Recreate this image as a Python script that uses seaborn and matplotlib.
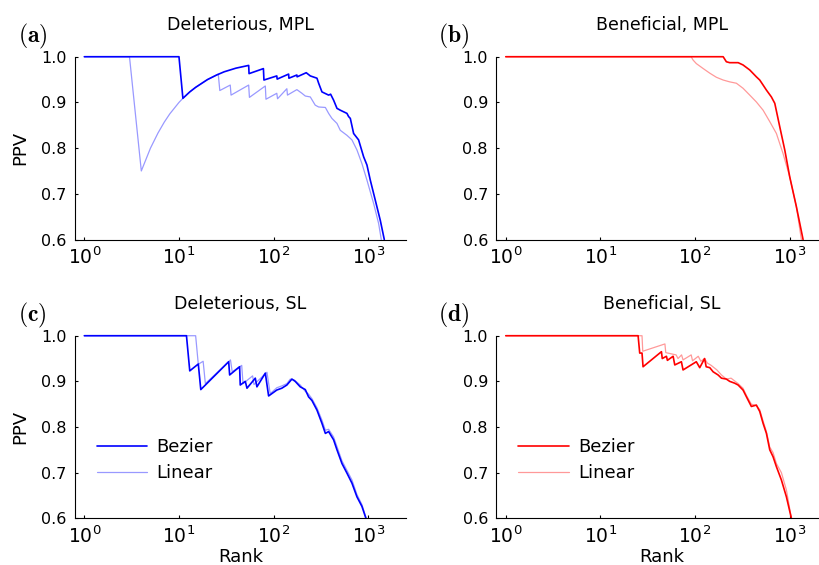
import matplotlib
matplotlib.use("Agg")
import matplotlib.pyplot as plt
import seaborn as sns
from matplotlib.ticker import FixedLocator, NullLocator

sns.set_theme(style="ticks")
plt.rcParams["font.family"] = ["DejaVu Sans"]
plt.rcParams["mathtext.fontset"] = "dejavusans"
plt.rcParams["text.color"] = "black"
plt.rcParams["axes.labelcolor"] = "black"
plt.rcParams["xtick.color"] = "black"
plt.rcParams["ytick.color"] = "black"

# ---- data (rank, PPV) ----
# (a) Deleterious, MPL
del_mpl_bez_rank = [1, 10, 11, 13, 15, 20, 25, 30, 40, 54.5, 55, 78, 79, 108, 109, 144, 145,
                    176, 177, 221, 244, 287, 299, 324, 381, 400, 430, 467, 506, 595, 620, 646,
                    700, 790, 893, 968, 1050, 1186, 1339, 1476]
del_mpl_bez_ppv = [1.0, 1.0, 0.909, 0.923, 0.933, 0.95, 0.96, 0.967, 0.975, 0.981, 0.963, 0.974,
                   0.949, 0.958, 0.951, 0.962, 0.953, 0.960, 0.956, 0.965, 0.958, 0.953, 0.942,
                   0.923, 0.916, 0.918, 0.905, 0.887, 0.883, 0.876, 0.869, 0.865, 0.832, 0.818,
                   0.781, 0.763, 0.730, 0.686, 0.642, 0.6]
del_mpl_lin_rank = [1, 3, 4, 5, 6, 7, 8, 10, 11, 13, 15, 20, 26, 27, 34.8, 35.5, 54.5, 55.5,
                    81.7, 83, 108, 110, 138, 140, 176, 199, 216, 244, 275, 299, 352, 381, 413,
                    467, 506, 595, 672, 759, 857, 968, 1138, 1286, 1372]
del_mpl_lin_ppv = [1.0, 1.0, 0.75, 0.8, 0.833, 0.857, 0.875, 0.9, 0.909, 0.923, 0.933, 0.95,
                   0.962, 0.926, 0.938, 0.916, 0.938, 0.911, 0.936, 0.907, 0.92, 0.908, 0.93,
                   0.916, 0.928, 0.92, 0.914, 0.912, 0.894, 0.89, 0.889, 0.876, 0.865, 0.854,
                   0.839, 0.828, 0.818, 0.796, 0.766, 0.73, 0.679, 0.635, 0.6]

# (b) Beneficial, MPL
ben_mpl_bez_rank = [1, 198, 214, 232, 285, 321, 378, 444, 482, 523, 567, 640, 695, 784, 886,
                    1000, 1175, 1383]
ben_mpl_bez_ppv = [1.0, 1.0, 0.989, 0.987, 0.987, 0.982, 0.971, 0.956, 0.949, 0.938, 0.927,
                   0.912, 0.898, 0.847, 0.796, 0.737, 0.672, 0.6]
ben_mpl_lin_rank = [1, 91, 95, 103, 122, 143, 168, 198, 232, 273, 321, 378, 444, 523, 615, 723,
                    850, 1000, 1175, 1327]
ben_mpl_lin_ppv = [1.0, 1.0, 0.993, 0.985, 0.974, 0.964, 0.955, 0.949, 0.945, 0.942, 0.931,
                   0.916, 0.901, 0.883, 0.858, 0.832, 0.788, 0.737, 0.672, 0.6]

# (c) Deleterious, SL
del_sl_bez_rank = [1, 12, 13, 16, 17, 33.5, 34.3, 43.7, 44.4, 50.2, 52.3, 64, 66.6, 81.7, 88.5,
                   108, 122, 138, 156, 169, 191, 216, 234, 254, 287, 324, 352, 381, 430, 467,
                   527, 595, 672, 759, 857, 944]
del_sl_bez_ppv = [1.0, 1.0, 0.923, 0.938, 0.882, 0.943, 0.914, 0.932, 0.892, 0.9, 0.885, 0.907,
                  0.888, 0.918, 0.868, 0.881, 0.885, 0.892, 0.905, 0.9, 0.888, 0.882, 0.866,
                  0.858, 0.837, 0.808, 0.786, 0.79, 0.772, 0.75, 0.72, 0.699, 0.677, 0.647,
                  0.626, 0.6]
del_sl_lin_rank = [1, 15, 16, 18, 19, 35, 36.5, 46, 47.5, 60, 62, 85, 92, 108, 122, 138, 150,
                   165, 191, 216, 234, 254, 287, 324, 352, 381, 430, 467, 527, 595, 672, 759,
                   857, 950]
del_sl_lin_ppv = [1.0, 1.0, 0.9375, 0.944, 0.895, 0.947, 0.921, 0.935, 0.895, 0.912, 0.893,
                  0.92, 0.873, 0.886, 0.89, 0.895, 0.905, 0.903, 0.892, 0.878, 0.872, 0.862,
                  0.842, 0.815, 0.793, 0.795, 0.778, 0.757, 0.726, 0.705, 0.684, 0.652, 0.63,
                  0.6]

# (d) Beneficial, SL
ben_sl_bez_rank = [1, 25, 26, 27.5, 28.2, 44.1, 45, 49.8, 51, 58.6, 61, 71.7, 74.6, 103, 112,
                   126, 131, 143, 155, 175, 190, 214, 232, 262, 285, 321, 349, 393, 444, 482,
                   523, 567, 615, 666, 723, 816, 922, 1041]
ben_sl_bez_ppv = [1.0, 1.0, 0.962, 0.962, 0.932, 0.965, 0.95, 0.955, 0.946, 0.955, 0.936, 0.943,
                  0.925, 0.943, 0.93, 0.95, 0.932, 0.93, 0.921, 0.914, 0.907, 0.905, 0.9,
                  0.896, 0.892, 0.881, 0.866, 0.845, 0.848, 0.834, 0.808, 0.786, 0.75, 0.735,
                  0.713, 0.684, 0.647, 0.6]
ben_sl_lin_rank = [1, 27.5, 28, 48, 49, 63, 66, 72, 74.6, 91, 94, 108, 115, 126, 135, 148, 170,
                   190, 214, 240, 285, 321, 349, 393, 444, 482, 523, 567, 615, 666, 723, 816,
                   922, 1041]
ben_sl_lin_ppv = [1.0, 1.0, 0.966, 0.982, 0.963, 0.958, 0.95, 0.958, 0.947, 0.958, 0.945, 0.955,
                  0.944, 0.95, 0.94, 0.935, 0.925, 0.914, 0.905, 0.907, 0.895, 0.885, 0.869,
                  0.85, 0.847, 0.838, 0.813, 0.79, 0.756, 0.744, 0.72, 0.7, 0.662, 0.6]

x_ticks = [1, 10, 100, 1000]
y_ticks = [0.6, 0.7, 0.8, 0.9, 1.0]


def draw_panel(ax, bez, lin, color, title, tag, ylabel=False, xlabel=False, legend=False):
    sns.lineplot(x=bez[0], y=bez[1], ax=ax, color=color, lw=1.2, estimator=None,
                 sort=False, label="Bezier", clip_on=False)
    sns.lineplot(x=lin[0], y=lin[1], ax=ax, color=color, alpha=0.4, lw=0.9, estimator=None,
                 sort=False, label="Linear", clip_on=False)
    ax.set_xscale("log")
    ax.set_xlim(10 ** -0.1, 10 ** 3.4)
    ax.set_ylim(0.6, 1.0)
    ax.xaxis.set_major_locator(FixedLocator(x_ticks))
    ax.xaxis.set_minor_locator(NullLocator())
    ax.yaxis.set_major_locator(FixedLocator(y_ticks))
    ax.set_yticklabels([f"{v:.1f}" for v in y_ticks])
    ax.tick_params(axis="x", direction="in", length=2.5, width=0.8, labelsize=13.5, pad=5)
    ax.tick_params(axis="y", direction="in", length=2.5, width=0.8, labelsize=11.5, pad=6)
    for s in ("top", "right"):
        ax.spines[s].set_visible(False)
    for s in ("left", "bottom"):
        ax.spines[s].set_linewidth(0.8)
        ax.spines[s].set_color("black")
    ax.set_title(title, fontsize=12.5, pad=19)
    ax.set_xlabel("Rank" if xlabel else "", fontsize=13)
    ax.xaxis.set_label_coords(0.5, -0.165)
    ax.set_ylabel("PPV" if ylabel else "", fontsize=13)
    ax.yaxis.set_label_coords(-0.137, 0.5)
    if legend:
        ax.legend(loc="upper left", bbox_to_anchor=(0.066, 0.44), frameon=False, fontsize=13,
                  handlelength=2.8, handletextpad=0.5, labelspacing=0.45, borderpad=0,
                  borderaxespad=0)
    else:
        ax.get_legend().remove()
    pos = ax.get_position()
    fig.text(pos.x0 - 0.052, pos.y1 + 0.036, tag, fontsize=17, ha="center", va="center",
             math_fontfamily="cm")


fig = plt.figure(figsize=(8.19, 5.65), dpi=100)
ax_a = fig.add_axes([0.0914, 0.5761, 0.4045, 0.3235])
ax_b = fig.add_axes([0.606, 0.5761, 0.4045, 0.3235])
ax_c = fig.add_axes([0.0914, 0.0827, 0.4045, 0.3231])
ax_d = fig.add_axes([0.606, 0.0827, 0.4045, 0.3231])

draw_panel(ax_a, (del_mpl_bez_rank, del_mpl_bez_ppv), (del_mpl_lin_rank, del_mpl_lin_ppv),
           "blue", "Deleterious, MPL", r"$(\mathbf{a})$", ylabel=True)
draw_panel(ax_b, (ben_mpl_bez_rank, ben_mpl_bez_ppv), (ben_mpl_lin_rank, ben_mpl_lin_ppv),
           "red", "Beneficial, MPL", r"$(\mathbf{b})$")
draw_panel(ax_c, (del_sl_bez_rank, del_sl_bez_ppv), (del_sl_lin_rank, del_sl_lin_ppv),
           "blue", "Deleterious, SL", r"$(\mathbf{c})$", ylabel=True, xlabel=True, legend=True)
draw_panel(ax_d, (ben_sl_bez_rank, ben_sl_bez_ppv), (ben_sl_lin_rank, ben_sl_lin_ppv),
           "red", "Beneficial, SL", r"$(\mathbf{d})$", xlabel=True, legend=True)

fig.savefig("out.png", dpi=100)
plt.close(fig)
